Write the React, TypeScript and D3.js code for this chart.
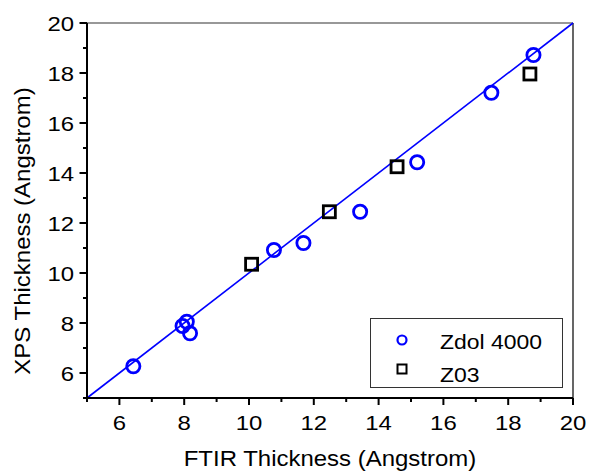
import React from 'react';
import * as d3 from 'd3';

const zdolX = [6.43, 7.95, 8.08, 8.18, 10.77, 11.68, 13.43, 15.19, 17.48, 18.78];
const zdolY = [6.27, 7.88, 8.05, 7.59, 10.92, 11.2, 12.45, 14.43, 17.21, 18.72];
const z03X = [10.08, 12.48, 14.57, 18.67];
const z03Y = [10.35, 12.45, 14.25, 17.96];
const fitLine = [5, 20];
const majorTicks = [6, 8, 10, 12, 14, 16, 18, 20];
const minorTicks = [5, 7, 9, 11, 13, 15, 17, 19];
const legendLabels = ['Zdol 4000', 'Z03'];

const W = 589;
const H = 474;
const margin = { top: 23, right: 16, bottom: 76, left: 87 };
const FONT = '"Liberation Sans", Arial, Helvetica, sans-serif';

const App = () => {
  const x = d3.scaleLinear().domain([5, 20]).range([margin.left, W - margin.right]);
  const y = d3.scaleLinear().domain([5, 20]).range([H - margin.bottom, margin.top]);
  const [x0, x1] = x.range();
  const [y0, y1] = y.range();

  const line = d3.line<number>().x(d => x(d)).y(d => y(d));
  const zdol = zdolX.map((v, i) => [v, zdolY[i]]);
  const z03 = z03X.map((v, i) => [v, z03Y[i]]);

  const sq = 12;
  const tickSx = 1.14;
  const titleSx = 1.09;

  return (
    <svg width={W} height={H} style={{ position: 'absolute', left: 0, top: 0, background: '#fff' }}
      fontFamily={FONT}>
      {/* frame */}
      <line x1={x0} x2={x1} y1={y1} y2={y1} stroke="#333" strokeWidth={1.2} />
      <line x1={x1} x2={x1} y1={y1} y2={y0} stroke="#000" strokeWidth={1.2} />

      {/* fit line y = x */}
      <path d={line(fitLine) || ''} stroke="#0000ff" strokeWidth={1.6} fill="none" />

      {/* points */}
      {zdol.map((d, i) => (
        <circle key={'c' + i} cx={x(d[0])} cy={y(d[1])} r={6.6}
          fill="none" stroke="#0000ff" strokeWidth={2.8} />
      ))}
      {z03.map((d, i) => (
        <rect key={'s' + i} x={x(d[0]) - sq / 2} y={y(d[1]) - sq / 2} width={sq} height={sq}
          fill="none" stroke="#000" strokeWidth={2.8} />
      ))}

      {/* axes */}
      <line x1={x0} x2={x0} y1={y1} y2={y0 + 1} stroke="#000" strokeWidth={2} />
      <line x1={x0 - 1} x2={x1} y1={y0} y2={y0} stroke="#000" strokeWidth={2} />

      {majorTicks.map(t => (
        <g key={'xm' + t}>
          <line x1={x(t)} x2={x(t)} y1={y0} y2={y0 + 7} stroke="#000" strokeWidth={2} />
          <text transform={`translate(${x(t)},430) scale(${tickSx},1)`} textAnchor="middle"
            fontSize={21}>{t}</text>
        </g>
      ))}
      {minorTicks.map(t => (
        <line key={'xn' + t} x1={x(t)} x2={x(t)} y1={y0} y2={y0 + 4} stroke="#000" strokeWidth={2} />
      ))}
      {majorTicks.map(t => (
        <g key={'ym' + t}>
          <line x1={x0} x2={x0 - 7.5} y1={y(t)} y2={y(t)} stroke="#000" strokeWidth={2} />
          <text transform={`translate(74,${y(t) + 7.5}) scale(${tickSx},1)`} textAnchor="end"
            fontSize={21}>{t}</text>
        </g>
      ))}
      {minorTicks.map(t => (
        <line key={'yn' + t} x1={x0} x2={x0 - 4} y1={y(t)} y2={y(t)} stroke="#000" strokeWidth={2} />
      ))}

      {/* axis titles */}
      <text transform={`translate(${(x0 + x1) / 2},466) scale(${titleSx},1)`} textAnchor="middle"
        fontSize={22}>FTIR Thickness (Angstrom)</text>
      <text transform={`translate(30,231) rotate(-90) scale(${titleSx},1)`} textAnchor="middle"
        fontSize={22}>XPS Thickness (Angstrom)</text>

      {/* legend */}
      <rect x={370.5} y={318.5} width={192} height={69} fill="#fff" stroke="#333" strokeWidth={1} />
      <circle cx={402} cy={340} r={4.5} fill="none" stroke="#0000ff" strokeWidth={2.2} />
      <rect x={402 - 4.5} y={369 - 4.5} width={9} height={9} fill="none" stroke="#000" strokeWidth={2} />
      <text transform={`translate(440,349) scale(1.12,1)`} fontSize={20.5}>{legendLabels[0]}</text>
      <text transform={`translate(440,382) scale(1.12,1)`} fontSize={20.5}>{legendLabels[1]}</text>
    </svg>
  );
};

export default App;
